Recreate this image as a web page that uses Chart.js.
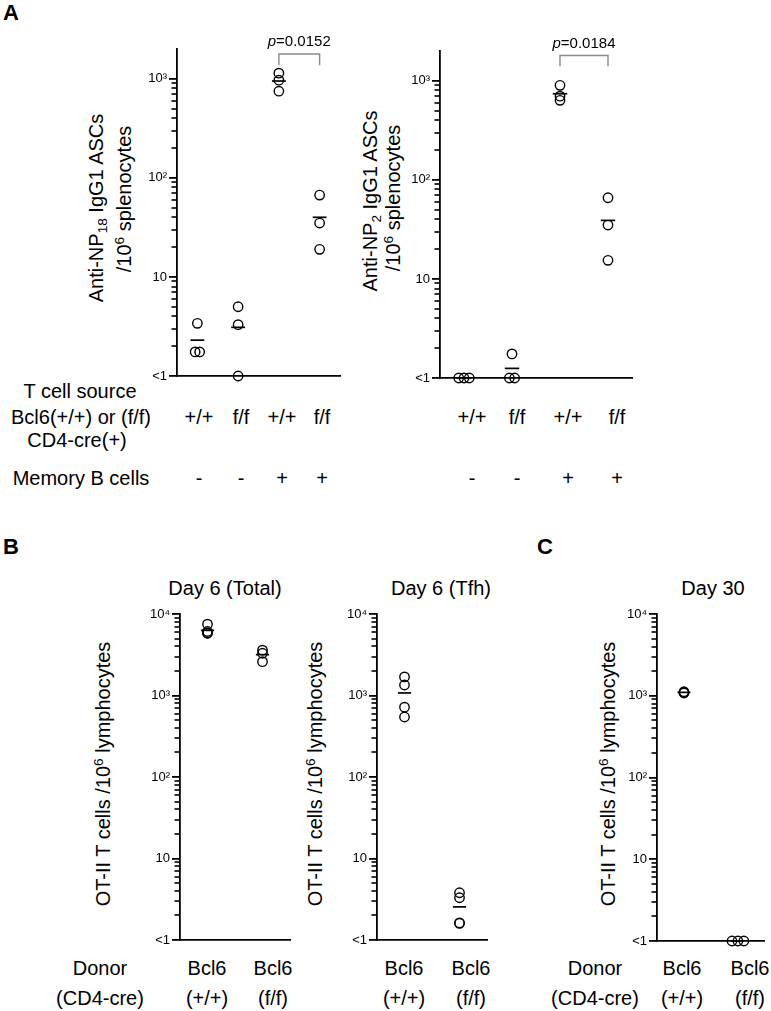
<!DOCTYPE html>
<html><head><meta charset="utf-8">
<title>Bcl6 T cell figure</title>
<script src="https://cdn.jsdelivr.net/npm/chart.js@4.4.1/dist/chart.umd.min.js"></script>
<style>
html,body{margin:0;padding:0;background:#fff;}
#fig{position:relative;width:771px;height:1011px;overflow:hidden;font-family:"Liberation Sans",Arial,Helvetica,sans-serif;color:#000;}
.t{position:absolute;white-space:nowrap;transform:translate(-50%,-50%);font-size:20px;line-height:1;}
.rot{transform:translate(-50%,-50%) rotate(-90deg);}
.lbl{font-weight:bold;font-size:22px;}
sub,sup{font-size:68%;line-height:0;position:relative;vertical-align:baseline;}
sup{top:-0.55em;} sub{top:0.3em;}
canvas{position:absolute;}
</style></head>
<body><div id="fig"></div>
<script>
// ---------------- data ----------------
const tCellGenotype = ['+/+', 'f/f', '+/+', 'f/f'];
const memoryBCells  = ['-', '-', '+', '+'];
const antiNP18      = [[3.4, 1.75, 1.75], [5.0, 3.3, 1], [1140, 970, 750], [67, 35, 19]];
const antiNP18Mean  = [2.3, 3.1, 950, 40];
const antiNP2       = [[1, 1, 1], [1.75, 1, 1], [900, 700, 635], [66, 35, 15.4]];
const antiNP2Mean   = [1, 1.25, 740, 39];
const pValueNP18    = '0.0152';
const pValueNP2     = '0.0184';
const donorGene     = ['Bcl6', 'Bcl6'];
const donorGenotype = ['(+/+)', '(f/f)'];
const day6Total     = [[7500, 6100, 5850, 5800], [3600, 3300, 2600]];
const day6TotalMean = [6300, 3170];
const day6Tfh       = [[1690, 1345, 720, 545], [3.8, 3.3, 1.62, 1.6]];
const day6TfhMean   = [1075, 2.55];
const day30         = [[1120, 1100, 1080], [1, 1, 1]];
const day30Mean     = [1100, 1];
const tickValuesA   = [1, 10, 100, 1000];
const tickValuesB   = [1, 10, 100, 1000, 10000];
const tickLabels    = {1: '<1', 10: '10', 100: '10²', 1000: '10³', 10000: '10⁴'};

// ---------------- helpers ----------------
const FONT = '"Liberation Sans", Arial, sans-serif';
const fig = document.getElementById('fig');
function addText(html, x, y, cls) {
  const d = document.createElement('div');
  d.className = 't ' + (cls || '');
  d.style.left = x + 'px'; d.style.top = y + 'px';
  d.innerHTML = html; fig.appendChild(d); return d;
}
const JIT = 0.11;
function jitter(groups) {
  const pts = [];
  groups.forEach((vals, i) => {
    vals.forEach((v, j) => {
      const same = vals.map((w, k) => k).filter(k => vals[k] === v);
      const k = same.length, r = same.indexOf(j);
      pts.push({x: i + 1 + (r - (k - 1) / 2) * JIT, y: v});
    });
  });
  return pts;
}
const minorTicks = {
  id: 'minorTicks',
  afterDraw(chart) {
    const s = chart.scales.y, ctx = chart.ctx, x = chart.chartArea.left;
    ctx.save(); ctx.strokeStyle = '#000'; ctx.lineWidth = 1.6;
    for (let d = 1; d * 10 <= s.max; d *= 10) {
      for (let m = 2; m <= 9; m++) {
        const y = Math.round(s.getPixelForValue(m * d));
        ctx.beginPath(); ctx.moveTo(x - 5.5, y); ctx.lineTo(x, y); ctx.stroke();
      }
    }
    ctx.restore();
  }
};
const pValue = {
  id: 'pValue',
  afterDatasetsDraw(chart, args, opts) {
    if (!opts || !opts.text) return;
    const xs = chart.scales.x, ys = chart.scales.y, ctx = chart.ctx;
    const cx = (xs.getPixelForValue(opts.from) + xs.getPixelForValue(opts.to)) / 2;
    const cy = ys.getPixelForValue(opts.level) - 8;
    ctx.save(); ctx.fillStyle = '#000'; ctx.textBaseline = 'alphabetic'; ctx.textAlign = 'left';
    const f1 = 'italic 15px ' + FONT, f2 = '15px ' + FONT;
    ctx.font = f1; const w1 = ctx.measureText('p').width;
    ctx.font = f2; const w2 = ctx.measureText('=' + opts.text).width;
    const sx = cx - (w1 + w2) / 2;
    ctx.font = f1; ctx.fillText('p', sx, cy);
    ctx.font = f2; ctx.fillText('=' + opts.text, sx + w1, cy);
    ctx.restore();
  }
};

function makePanel(g) {
  const padL = 60, padT = 40, padR = g.padR || 12, padB = 12;
  const w = padL + (g.x1 - g.x0) + padR, h = padT + (g.yBot - g.yTop) + padB;
  const c = document.createElement('canvas');
  c.width = w; c.height = h;
  c.style.left = (g.x0 - padL) + 'px'; c.style.top = (g.yTop - padT) + 'px';
  c.style.width = w + 'px'; c.style.height = h + 'px';
  fig.appendChild(c);
  const datasets = [{
    data: jitter(g.values), pointRadius: 4.7, pointHoverRadius: 4.7, pointBorderWidth: 1.4,
    borderColor: '#000', backgroundColor: 'rgba(0,0,0,0)', clip: false, showLine: false
  }];
  g.means.forEach((m, i) => datasets.push({
    data: [{x: i + 1 - g.half, y: m}, {x: i + 1 + g.half, y: m}], showLine: true,
    borderColor: '#000', borderWidth: 1.7, pointRadius: 0, clip: false
  }));
  if (g.bracket) datasets.push({
    data: [{x: 3, y: g.bracket.end}, {x: 3, y: g.bracket.top}, {x: 4, y: g.bracket.top}, {x: 4, y: g.bracket.end}],
    showLine: true, borderColor: '#8a8a8a', borderWidth: 1.4, pointRadius: 0, clip: false
  });
  return new Chart(c, {
    type: 'scatter',
    data: {datasets},
    options: {
      responsive: false, animation: false, events: [],
      layout: {padding: {left: 0, top: padT, right: padR, bottom: padB}},
      plugins: {
        legend: {display: false}, tooltip: {enabled: false},
        pValue: g.bracket ? {text: g.p, from: 3, to: 4, level: g.bracket.top} : {}
      },
      scales: {
        x: {type: 'linear', min: 0.5, max: g.values.length + 0.5,
            afterFit: s => { s.height = 0; },
            grid: {display: false}, ticks: {display: false},
            border: {display: true, color: '#000', width: 1.8}},
        y: {type: 'logarithmic', min: 1, max: g.ymax,
            afterFit: s => { s.width = padL; },
            afterBuildTicks: s => { s.ticks = g.ticks.map(v => ({value: v})); },
            ticks: {callback: v => (tickLabels[v] !== undefined ? tickLabels[v] : ''),
                    font: {family: FONT, size: 13}, color: '#000', padding: 2, autoSkip: false},
            grid: {display: true, drawOnChartArea: false, drawTicks: true, tickLength: 8, color: '#000', lineWidth: 1.8},
            border: {display: true, color: '#000', width: 1.8}}
      }
    },
    plugins: [minorTicks, pValue]
  });
}

// ---------------- panel A ----------------
addText('A', 11, 13, 'lbl');
addText('Anti-NP<sub>18</sub> IgG1 ASCs', 96, 208, 'rot');
addText('/10<sup>6</sup> splenocytes', 124, 199, 'rot');
addText('Anti-NP<sub>2</sub> IgG1 ASCs', 370, 201, 'rot');
addText('/10<sup>6</sup> splenocytes', 393, 198, 'rot');
addText('T cell source', 80, 391);
addText('Bcl6(+/+) or (f/f)', 81, 417);
addText('CD4-cre(+)', 77, 440);
addText('Memory B cells', 81, 478);
const rowXA = [[199, 241, 282, 322], [472, 517, 568, 617]];
rowXA.forEach(xs => xs.forEach((x, i) => {
  addText(tCellGenotype[i], x, 417);
  addText(memoryBCells[i], x, 478);
}));

makePanel({x0: 177, x1: 340, yTop: 49, yBot: 376, ymax: 2000, ticks: tickValuesA,
  values: antiNP18, means: antiNP18Mean, half: 0.17, bracket: {top: 1780, end: 1370}, p: pValueNP18});
makePanel({x0: 440, x1: 632, yTop: 51, yBot: 378, ymax: 2000, ticks: tickValuesA,
  values: antiNP2, means: antiNP2Mean, half: 0.15, bracket: {top: 1800, end: 1400}, p: pValueNP2});

// ---------------- panels B and C ----------------
addText('B', 11, 547, 'lbl');
addText('C', 545, 547, 'lbl');
addText('Day 6 (Total)', 225, 588);
addText('Day 6 (Tfh)', 441, 588);
addText('Day 30', 713, 588);
const yTitle = 'OT-II T cells /10<sup>6</sup> lymphocytes';
addText(yTitle, 103, 774, 'rot');
addText(yTitle, 315, 774, 'rot');
addText(yTitle, 608, 774, 'rot');
addText('Donor', 100, 968); addText('(CD4-cre)', 100, 998);
addText('Donor', 595, 968); addText('(CD4-cre)', 595, 998);
const rowXB = [[207, 273], [404, 471], [682, 750]];
rowXB.forEach(xs => xs.forEach((x, i) => {
  addText(donorGene[i], x, 968);
  addText(donorGenotype[i], x, 998);
}));

makePanel({x0: 180, x1: 290, yTop: 614, yBot: 940, ymax: 10000, ticks: tickValuesB,
  values: day6Total, means: day6TotalMean, half: 0.12});
makePanel({x0: 377, x1: 487, yTop: 614, yBot: 940, ymax: 10000, ticks: tickValuesB,
  values: day6Tfh, means: day6TfhMean, half: 0.12});
makePanel({x0: 657, x1: 767, yTop: 614, yBot: 941, ymax: 10000, ticks: tickValuesB,
  values: day30, means: day30Mean, half: 0.12, padR: 4});
</script>
</body></html>
